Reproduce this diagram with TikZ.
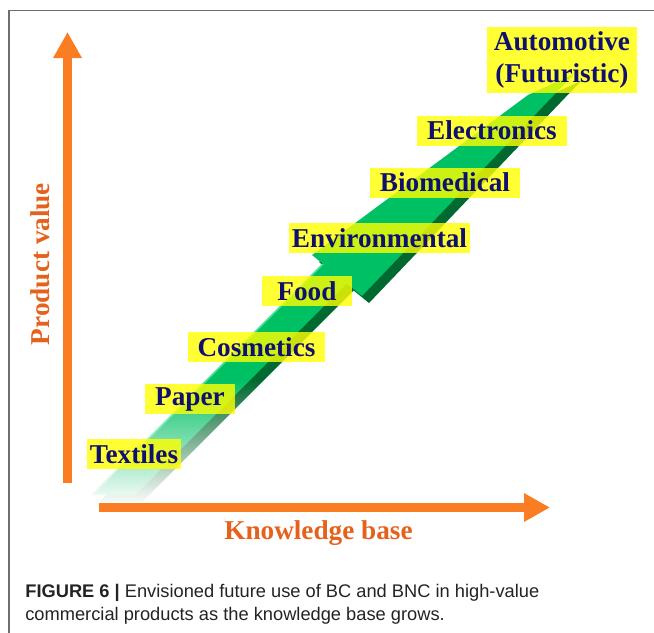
\documentclass[tikz,border=0pt]{standalone}
\usepackage{fontspec}
\setmainfont{Liberation Serif}
\setsansfont{Liberation Sans}
\usetikzlibrary{arrows.meta}
\usetikzlibrary{fadings}
\definecolor{bcnavy}  {RGB}{16,16,110}
\definecolor{bcyellow}{RGB}{255,255,0}
\definecolor{bcorange}{RGB}{250,125,35}
\definecolor{bcaxis}  {RGB}{228,98,28}
\definecolor{bcgreen} {RGB}{0,192,100}
\definecolor{bcdark}  {RGB}{0,105,48}
\definecolor{bclight} {RGB}{70,225,150}
\definecolor{bcframe} {RGB}{110,110,110}
\definecolor{bccap}   {RGB}{35,35,35}

\tikzfading[name=shaftfade, top color=transparent!100, bottom color=transparent!0]

\begin{document}
\begin{tikzpicture}[x=0.02cm, y=-0.02cm,
    sector/.style={fill=bcyellow, fill opacity=0.8, text opacity=1,
      text=bcnavy, inner xsep=1.5pt, inner ysep=0pt, minimum height=0.6cm,
      font=\bfseries\fontsize{15.5}{18}\selectfont},
    growaxis/.style={draw=bcorange, line width=0.18cm,
      -{Triangle[length=0.52cm, width=0.54cm]}},
    axislabel/.style={text=bcaxis, inner sep=0pt,
      font=\bfseries\fontsize{15.5}{18}\selectfont}]

            \useasboundingbox (0,0) rectangle (654,633);

            % frame
            \draw [bcframe, line width=0.8pt] (654,10.5) -- (9,10.5) -- (9,633);

            % arrow, side face
            \fill [bcdark, shift={(7,7)}]
              (92,495) -- (135,495) -- (346.6,283.4) -- (362,296)
              -- (574,74) -- (528,95) -- (312,255) -- (323,264) -- cycle;

            % arrow, front face
            \fill [bcgreen]
              (92,495) -- (135,495) -- (346.6,283.4) -- (362,296)
              -- (574,74) -- (528,95) -- (312,255) -- (323,264) -- cycle;
            \draw [bclight, line width=1pt] (92,495) -- (323,264);

            % faded tail
            \fill [white, path fading=shaftfade]
              (75,505) -- (145,505) -- (270,380) -- (200,380) -- cycle;

            % axes
            \coordinate (vfoot) at (67.5,483);
            \coordinate (vtip)  at (67.5,32);
            \coordinate (hfoot) at (99,507.5);
            \coordinate (htip)  at (550,507.5);
            \draw [growaxis] (vfoot) -- (vtip);
            \draw [growaxis] (hfoot) -- (htip);

            \node (value)
              [axislabel, rotate=90, anchor=base]
              at(50,264) {Product value};
            \node (base)
              [axislabel, anchor=base]
              at(318.5,539) {Knowledge base};

            % products
            \node (textiles)
              [sector, minimum width=1.8cm]
              at(134,454) {Textiles};
            \node (paper)
              [sector, minimum width=1.8cm]
              at(190,399) {Paper};
            \node (cosmetics)
              [sector, minimum width=2.74cm]
              at(256.5,347) {Cosmetics};
            \node (food)
              [sector, minimum width=1.8cm]
              at(307,291) {Food};
            \node (environ)
              [sector]
              at(379.5,238) {Environmental};
            \node (biomed)
              [sector, minimum width=3cm]
              at(445,182.5) {Biomedical};
            \node (electro)
              [sector, minimum width=3cm]
              at(492,130.5) {Electronics};
            \node (auto)
              [sector, align=center, minimum width=3cm, minimum height=1.32cm]
              at(562,60) {Automotive\\(Futuristic)};

            % caption
            \node (caption)
              [anchor=base west, align=left, inner sep=0pt, text=bccap,
               font=\sffamily\fontsize{10.4}{13}\selectfont]
              at(25,620)
              {\textbf{FIGURE 6 |} Envisioned future use of BC and BNC in high-value\\
               commercial products as the knowledge base grows.};
\end{tikzpicture}
\end{document}
